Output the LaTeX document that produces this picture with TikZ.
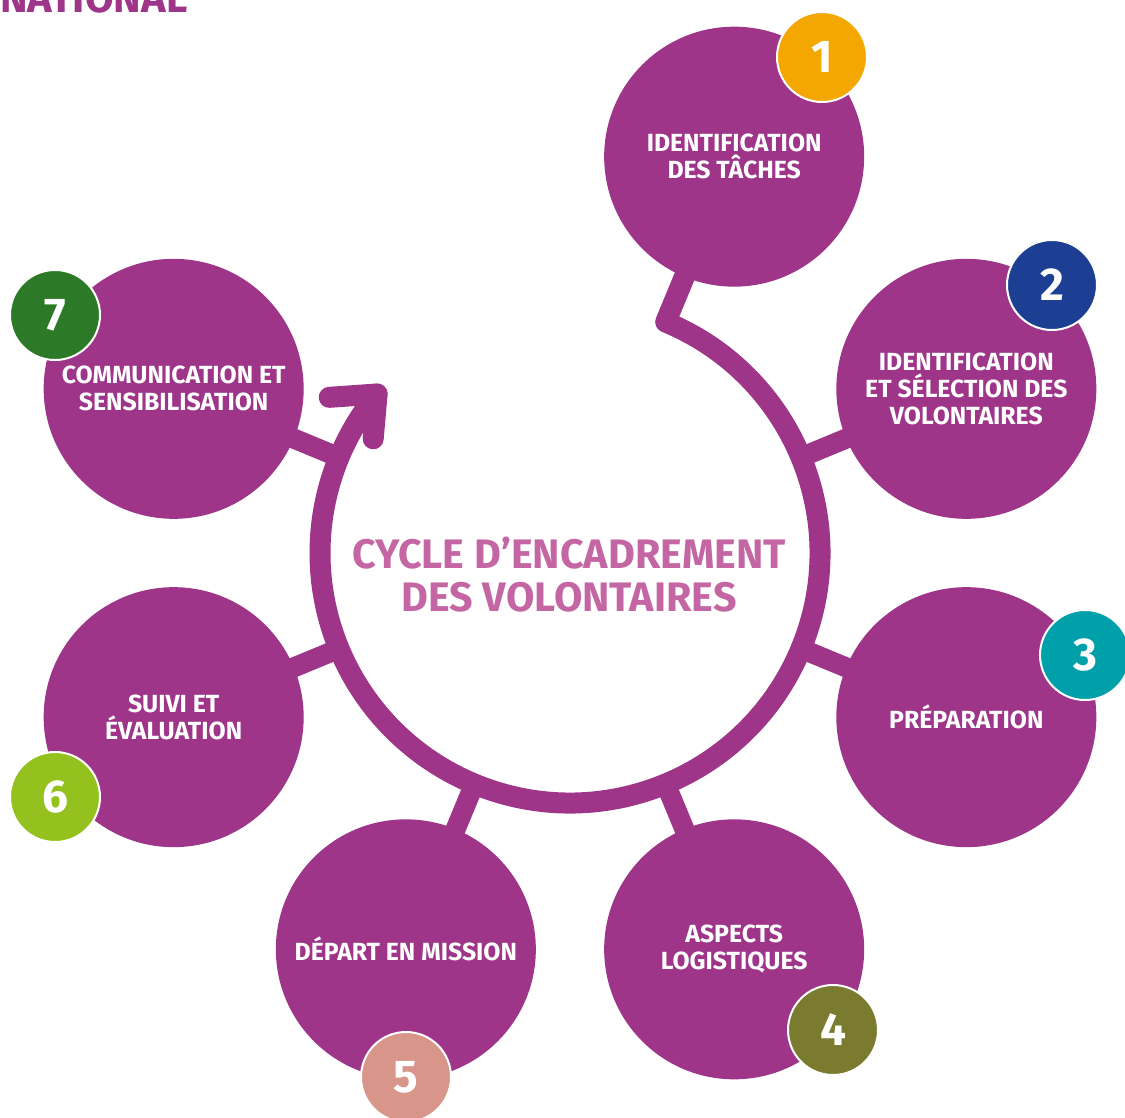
\documentclass[tikz,border=0pt]{standalone}
\usepackage{fontspec}
\setmainfont{Fira Sans}
\usepackage{tikz}

\definecolor{cyclepurple}{HTML}{9E3589}
\definecolor{titlepink}{HTML}{C466A3}
\definecolor{numone}{HTML}{F4A700}
\definecolor{numtwo}{HTML}{1C3F94}
\definecolor{numthree}{HTML}{00A0AA}
\definecolor{numfour}{HTML}{7A7B2E}
\definecolor{numfive}{HTML}{D8958A}
\definecolor{numsix}{HTML}{95C11F}
\definecolor{numseven}{HTML}{2C7A27}

\begin{document}
\begin{tikzpicture}[x=0.5pt,y=0.5pt,
	step node/.style={circle, fill=cyclepurple, minimum size=130pt, inner sep=0pt, align=center, text=white, font=\bfseries\fontsize{12.4}{13.5}\selectfont},
	num node/.style={circle, draw=white, line width=1pt, minimum size=45pt, inner sep=0pt, text=white, font=\bfseries\fontsize{23}{23}\selectfont},
	ring line/.style={draw=cyclepurple, line width=10.5pt, line join=round, line cap=round},
	spoke line/.style={draw=cyclepurple, line width=10pt, shorten >=-3pt}]

	\useasboundingbox (0,0) rectangle (1125,-1118);
	\coordinate (C) at (570,-553);

	\node[anchor=base west, inner sep=0pt, text=cyclepurple, font=\bfseries\fontsize{20.8}{20.8}\selectfont] (nat) at (0,-13) {NATIONAL};

	% the seven steps
	\node[step node] (S1) at ([shift={(67.5:429)}]C) {IDENTIFICATION\\DES TÂCHES};
	\node[step node] (S2) at ([shift={(22.5:429)}]C) {IDENTIFICATION\\ET SÉLECTION DES\\VOLONTAIRES};
	\node[step node] (S3) at ([shift={(-22.5:429)}]C) {PRÉPARATION};
	\node[step node] (S4) at ([shift={(-67.5:429)}]C) {ASPECTS\\LOGISTIQUES};
	\node[step node] (S5) at ([shift={(-112.5:429)}]C) {DÉPART EN MISSION};
	\node[step node] (S6) at ([shift={(-157.5:429)}]C) {SUIVI ET\\ÉVALUATION};
	\node[step node] (S7) at ([shift={(157.5:429)}]C) {COMMUNICATION ET\\SENSIBILISATION};

	\node[text=titlepink, align=center, font=\bfseries\fontsize{20.6}{21.5}\selectfont] (title) at (569,-575) {CYCLE D’ENCADREMENT\\DES VOLONTAIRES};

	% ring with arrow
	\draw[ring line] ([shift={(67.5:305)}]C) -- ([shift={(67.5:250)}]C)
		arc[start angle=67.5, end angle=-219.5, radius=250] coordinate (tip);
	\draw[ring line] ([shift={(184:48)}]tip) -- (tip) -- ([shift={(265:45)}]tip);

	\draw[spoke line] (C) ++(22.5:245) -- (S2);
	\draw[spoke line] (C) ++(-22.5:245) -- (S3);
	\draw[spoke line] (C) ++(-67.5:245) -- (S4);
	\draw[spoke line] (C) ++(-112.5:245) -- (S5);
	\draw[spoke line] (C) ++(-157.5:245) -- (S6);
	\draw[spoke line] (C) ++(157.5:245) -- (S7);

	% numbers
	\node[num node, fill=numone] (N1) at (822,-57) {1};
	\node[num node, fill=numtwo] (N2) at (1052,-285) {2};
	\node[num node, fill=numthree] (N3) at (1085,-655) {3};
	\node[num node, fill=numfour] (N4) at (833,-1030) {4};
	\node[num node, fill=numfive] (N5) at (406,-1077) {5};
	\node[num node, fill=numsix] (N6) at (55,-797) {6};
	\node[num node, fill=numseven] (N7) at (55,-315) {7};
\end{tikzpicture}
\end{document}
